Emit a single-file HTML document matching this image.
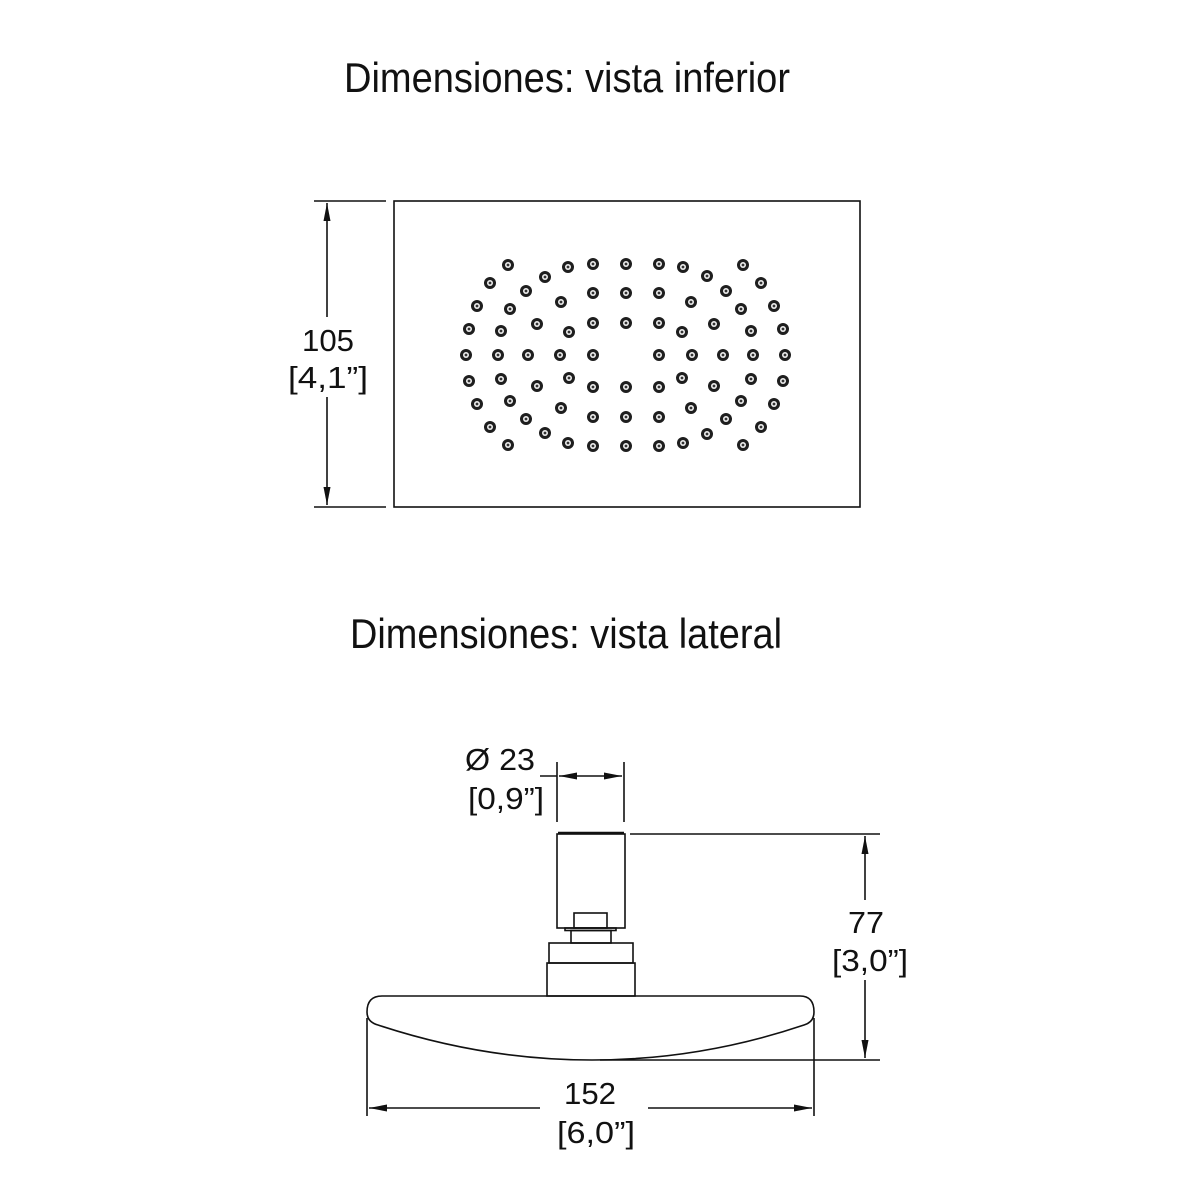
<!DOCTYPE html>
<html><head><meta charset="utf-8"><style>html,body{margin:0;padding:0;background:#fff}svg{display:block}</style></head>
<body>
<svg width="1200" height="1200" viewBox="0 0 1200 1200" xmlns="http://www.w3.org/2000/svg">
<defs>
<marker id="a" viewBox="0 0 18 7" refX="18" refY="3.5" markerWidth="18" markerHeight="7" orient="auto-start-reverse" markerUnits="userSpaceOnUse"><path d="M0,0 L18,3.5 L0,7 z" fill="#111"/></marker>
<g id="n"><circle r="6" fill="#1e1e1e"/><circle r="3" fill="#eee"/><circle r="1.4" fill="#333"/></g>
</defs>
<g font-family="'Liberation Sans Narrow','Liberation Sans',sans-serif" fill="#111">
<text x="567" y="92" font-size="42" text-anchor="middle" textLength="446" lengthAdjust="spacingAndGlyphs">Dimensiones: vista inferior</text>
<text x="566" y="648" font-size="42" text-anchor="middle" textLength="432" lengthAdjust="spacingAndGlyphs">Dimensiones: vista lateral</text>
</g>
<g font-family="'Liberation Sans',sans-serif" font-size="31" fill="#111" text-anchor="middle" lengthAdjust="spacingAndGlyphs">
<text x="328" y="351" textLength="52" lengthAdjust="spacingAndGlyphs">105</text><text x="328" y="388" textLength="80" lengthAdjust="spacingAndGlyphs">[4,1”]</text>
<text x="500" y="770" textLength="70" lengthAdjust="spacingAndGlyphs">Ø 23</text><text x="506" y="809" textLength="76" lengthAdjust="spacingAndGlyphs">[0,9”]</text>
<text x="866" y="933" textLength="36" lengthAdjust="spacingAndGlyphs">77</text><text x="870" y="971" textLength="76" lengthAdjust="spacingAndGlyphs">[3,0”]</text>
<text x="590" y="1104" textLength="52" lengthAdjust="spacingAndGlyphs">152</text><text x="596" y="1143" textLength="78" lengthAdjust="spacingAndGlyphs">[6,0”]</text>
</g>
<g stroke="#111" stroke-width="1.6" fill="none">
<rect x="394" y="201" width="466" height="306"/>
<line x1="314" y1="201" x2="386" y2="201"/><line x1="314" y1="507" x2="386" y2="507"/>
<line x1="327" y1="203" x2="327" y2="317" marker-start="url(#a)"/>
<line x1="327" y1="397" x2="327" y2="505" marker-end="url(#a)"/>
<line x1="557" y1="762" x2="557" y2="822"/><line x1="624" y1="762" x2="624" y2="822"/>
<line x1="540" y1="776" x2="557" y2="776"/>
<line x1="559" y1="776" x2="622" y2="776" marker-start="url(#a)" marker-end="url(#a)"/>
<rect x="557" y="834" width="68" height="94"/>
<line x1="558" y1="833" x2="624" y2="833" stroke-width="2.5"/>
<rect x="574" y="913" width="33" height="15"/>
<rect x="565" y="928" width="51" height="2.5"/>
<rect x="571" y="930.5" width="40" height="12.5"/>
<rect x="549" y="943" width="84" height="20"/>
<rect x="547" y="963" width="88" height="33"/>
<path d="M382,996 L800,996 Q814,996 814,1012 Q814,1022 804,1025 Q700,1060 592,1060 Q484,1060 378,1025 Q367,1022 367,1012 Q367,996 382,996 Z"/>
<line x1="630" y1="834" x2="880" y2="834"/>
<line x1="600" y1="1060" x2="880" y2="1060"/>
<line x1="865" y1="836" x2="865" y2="900" marker-start="url(#a)"/>
<line x1="865" y1="980" x2="865" y2="1058" marker-end="url(#a)"/>
<line x1="367" y1="1018" x2="367" y2="1116"/><line x1="814" y1="1018" x2="814" y2="1116"/>
<line x1="369" y1="1108" x2="540" y2="1108" marker-start="url(#a)"/>
<line x1="648" y1="1108" x2="812" y2="1108" marker-end="url(#a)"/>
</g>
<g id="top">
<use href="#n" x="508" y="265"/><use href="#n" x="568" y="267"/><use href="#n" x="593" y="264"/><use href="#n" x="626" y="264"/><use href="#n" x="659" y="264"/><use href="#n" x="683" y="267"/><use href="#n" x="743" y="265"/>
<use href="#n" x="545" y="277"/><use href="#n" x="707" y="276"/><use href="#n" x="490" y="283"/><use href="#n" x="761" y="283"/>
<use href="#n" x="526" y="291"/><use href="#n" x="593" y="293"/><use href="#n" x="626" y="293"/><use href="#n" x="659" y="293"/><use href="#n" x="726" y="291"/>
<use href="#n" x="561" y="302"/><use href="#n" x="691" y="302"/><use href="#n" x="477" y="306"/><use href="#n" x="510" y="309"/><use href="#n" x="741" y="309"/><use href="#n" x="774" y="306"/>
<use href="#n" x="537" y="324"/><use href="#n" x="593" y="323"/><use href="#n" x="626" y="323"/><use href="#n" x="659" y="323"/><use href="#n" x="714" y="324"/>
<use href="#n" x="569" y="332"/><use href="#n" x="682" y="332"/><use href="#n" x="469" y="329"/><use href="#n" x="501" y="331"/><use href="#n" x="751" y="331"/><use href="#n" x="783" y="329"/>
</g>
<use href="#top" transform="translate(0,710) scale(1,-1)"/>
<use href="#n" x="466" y="355"/><use href="#n" x="498" y="355"/><use href="#n" x="528" y="355"/><use href="#n" x="560" y="355"/><use href="#n" x="593" y="355"/><use href="#n" x="659" y="355"/><use href="#n" x="692" y="355"/><use href="#n" x="723" y="355"/><use href="#n" x="753" y="355"/><use href="#n" x="785" y="355"/>
</svg>
</body></html>
